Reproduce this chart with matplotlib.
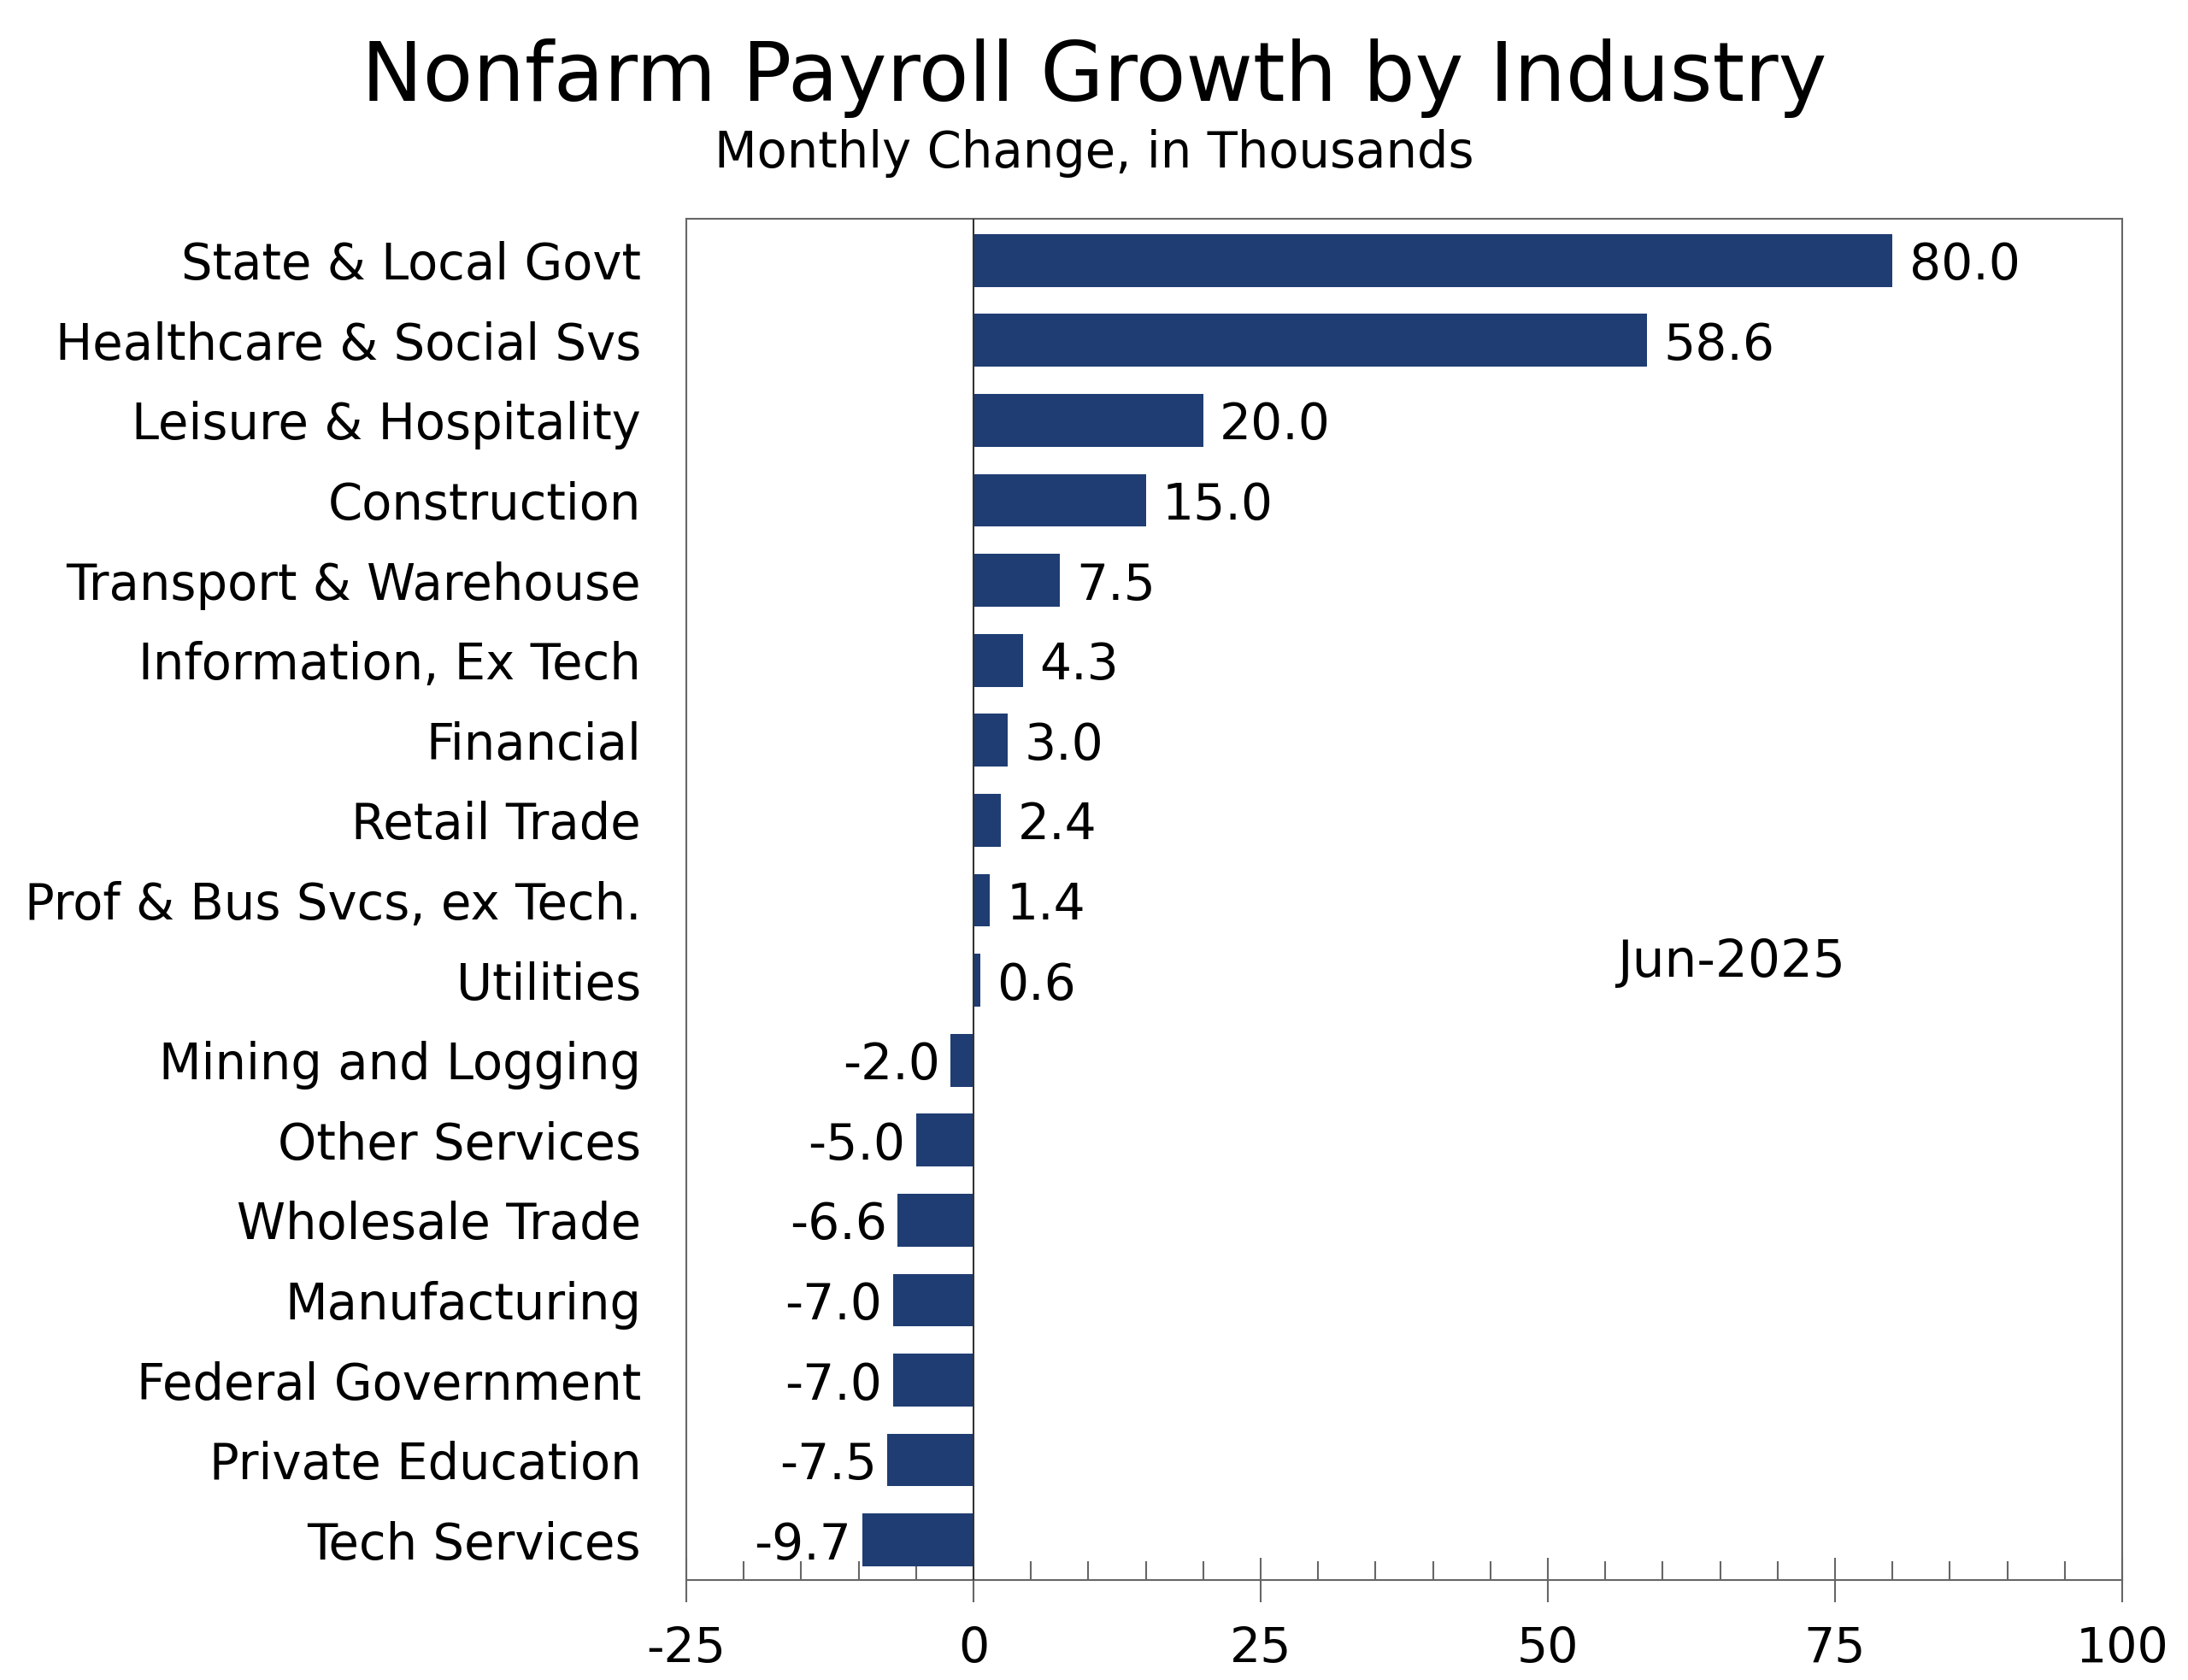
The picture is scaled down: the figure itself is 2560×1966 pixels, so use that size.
import numpy as np
import matplotlib
matplotlib.use("Agg")
import matplotlib.pyplot as plt
from matplotlib.ticker import MultipleLocator

plt.rcParams['font.family'] = ['DejaVu Sans']
plt.rcParams['axes.unicode_minus'] = False

# data
industries = ["State & Local Govt", "Healthcare & Social Svs", "Leisure & Hospitality",
              "Construction", "Transport & Warehouse", "Information, Ex Tech",
              "Financial", "Retail Trade", "Prof & Bus Svcs, ex Tech.", "Utilities",
              "Mining and Logging", "Other Services", "Wholesale Trade",
              "Manufacturing", "Federal Government", "Private Education", "Tech Services"]
changes = [80.0, 58.6, 20.0, 15.0, 7.5, 4.3, 3.0, 2.4, 1.4, 0.6,
           -2.0, -5.0, -6.6, -7.0, -7.0, -7.5, -9.7]
x_ticks = [-25, 0, 25, 50, 75, 100]
period = "Jun-2025"

bar_color = "#1f3d73"
spine_color = "#666666"

fig = plt.figure(figsize=(25.6, 19.66), dpi=100)
ax = fig.add_axes([803 / 2560, 1 - 1849 / 1966, (2483 - 803) / 2560, (1849 - 256) / 1966])

ypos = np.arange(len(industries))
ax.barh(ypos, changes, height=0.66, color=bar_color, zorder=2)
ax.axvline(0, color="#333333", lw=1.5, zorder=3)

# value labels
for y, v in zip(ypos, changes):
    if v >= 0:
        ax.annotate(f"{v:.1f}", (v, y), xytext=(14, 0), textcoords="offset points",
                    ha="left", va="center_baseline", fontsize=42)
    else:
        ax.annotate(f"{v:.1f}", (v, y), xytext=(-9, 0), textcoords="offset points",
                    ha="right", va="center_baseline", fontsize=42)

ax.set_xlim(-25, 100)
ax.set_ylim(len(industries) - 0.5, -0.52)
ax.set_yticks(ypos)
ax.set_yticklabels(industries, fontsize=41.5)
ax.tick_params(axis="y", length=0, pad=38)

ax.set_xticks(x_ticks)
ax.xaxis.set_minor_locator(MultipleLocator(5))
ax.tick_params(axis="x", which="major", direction="inout", length=38, width=1.5,
               color=spine_color, labelsize=41, pad=20)
ax.tick_params(axis="x", which="minor", direction="in", length=16, width=1.5,
               color=spine_color)

for s in ax.spines.values():
    s.set_color(spine_color)
    s.set_linewidth(1.5)

ax.text(56, 8.78, period, ha="left", va="center", fontsize=43)

fig.text(0.5, 1 - 92 / 1966, "Nonfarm Payroll Growth by Industry", ha="center", va="center",
         fontsize=69)
fig.text(0.5, 1 - 180 / 1966, "Monthly Change, in Thousands", ha="center", va="center",
         fontsize=41.5)

fig.savefig("out.png", dpi=100, facecolor="white")
